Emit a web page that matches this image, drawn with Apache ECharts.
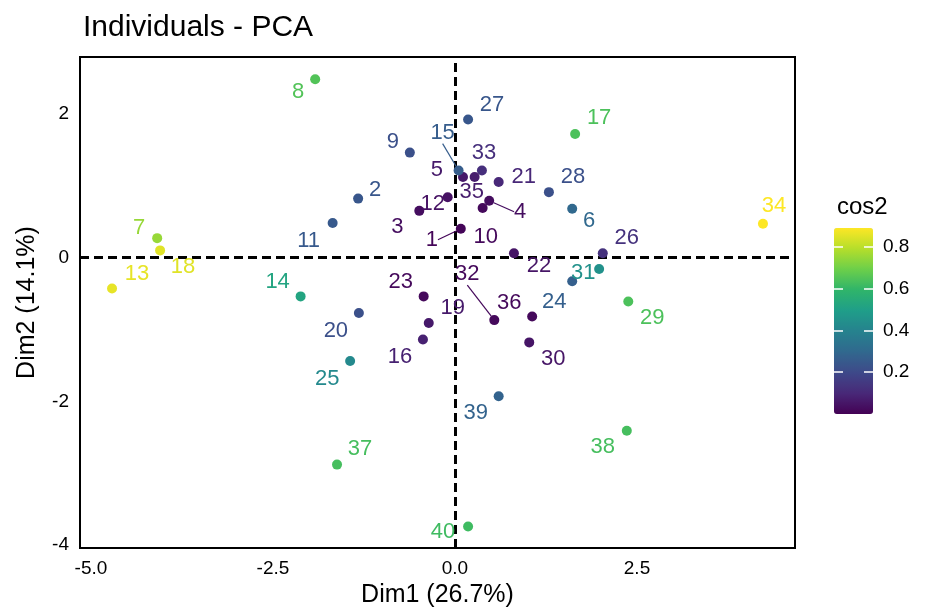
<!DOCTYPE html>
<html>
<head>
<meta charset="utf-8">
<script src="https://cdn.jsdelivr.net/npm/echarts@6/dist/echarts.min.js"></script>
<style>
    html, body { margin: 0; padding: 0; background: #fff; }
    #myChart { width: 929px; height: 609px; }
</style>
</head>
<body>
<div id="myChart"></div>
<script>
    // individuals
    var ids = ['1','2','3','4','5','6','7','8','9','10','11','12','13','14','15','16','17','18','19','20',
               '21','22','23','24','25','26','27','28','29','30','31','32','33','34','35','36','37','38','39','40'];
    var dim1 = [0.08,-1.33,-0.49,0.47,0.11,1.61,-4.09,-1.92,-0.62,0.38,-1.68,-0.10,-4.71,-2.12,0.05,-0.44,1.65,-4.05,-0.36,-1.32,
                0.60,0.81,-0.43,1.61,-1.44,2.03,0.18,1.29,2.38,1.02,1.98,0.54,0.37,4.23,0.27,1.06,-1.62,2.36,0.60,0.18];
    var dim2 = [0.40,0.82,0.65,0.79,1.12,0.68,0.27,2.48,1.46,0.69,0.48,0.84,-0.43,-0.54,1.21,-1.14,1.72,0.10,-0.91,-0.77,
                1.05,0.06,-0.54,-0.33,-1.44,0.06,1.92,0.91,-0.61,-1.18,-0.16,-0.87,1.21,0.47,1.12,-0.82,-2.88,-2.41,-1.93,-3.74];
    var cos2 = [0.01,0.24,0.03,0.03,0.06,0.30,0.75,0.65,0.22,0.02,0.25,0.04,0.86,0.52,0.26,0.08,0.64,0.85,0.06,0.22,
                0.10,0.05,0.02,0.27,0.42,0.13,0.24,0.22,0.64,0.05,0.45,0.02,0.12,0.89,0.07,0.02,0.63,0.63,0.28,0.62];

    var xTicks = [-5, -2.5, 0, 2.5];
    var yTicks = [-4, -2, 0, 2];
    var cos2Ticks = [0.2, 0.4, 0.6, 0.8];

    // where each text label sits relative to its point (px), like ggrepel did it
    var labelOffsets = [[-29,11],[17,-9],[-22,16],[31,11],[-26,-7],[17,12],[-18,-10],[-17,13],[-17,-11],[3,29],
                        [-24,18],[-15,7],[25,-15],[-23,-14],[-16,-38],[-23,17],[24,-16],[23,17],[24,-15],[-23,18],
                        [25,-5],[25,13],[-23,-14],[-18,21],[-23,18],[24,-15],[24,-15],[24,-15],[24,17],[24,17],
                        [-16,4],[-27,-46],[2,-18],[11,-18],[-3,15],[-23,-14],[23,-16],[-24,16],[-23,17],[-25,6]];
    var withSegment = ['1','4','15','32'];

    var viridis = ['#440154','#482878','#3e4989','#31688e','#26828e','#1f9e89','#2fb46a','#6ccf4a','#b5de2b','#fde725'];
    var font = 'Liberation Sans, Arial, sans-serif';

    var points = ids.map(function (id, i) {
        var item = {name: id, value: [dim1[i], dim2[i], cos2[i]]};
        if (withSegment.indexOf(id) >= 0) {
            item.labelLine = {show: true, lineStyle: {width: 1.2, opacity: 1}};
        }
        return item;
    });

    // white tick marks on the colour bar
    var barTick = function (position, offset, inside) {
        return {gridIndex: 1, type: 'value', min: 0, max: 0.89, position: position, offset: offset, z: 10,
                axisLine: {show: false}, splitLine: {show: false}, axisLabel: {show: false},
                axisTick: {show: true, inside: inside, customValues: cos2Ticks, length: 9,
                           lineStyle: {color: '#fff', width: 1.5}}};
    };

    var myChart = echarts.init(document.getElementById('myChart'));
    myChart.setOption({
        animation: false,
        title: [
            {text: 'Individuals - PCA', left: 78, top: 8,
             textStyle: {fontFamily: font, fontSize: 30, fontWeight: 'normal', color: '#000'}},
            {text: 'cos2', left: 832, top: 190,
             textStyle: {fontFamily: font, fontSize: 24, fontWeight: 'normal', color: '#000'}}
        ],
        grid: [
            {left: 80, right: 134, top: 57, bottom: 61, outerBoundsMode: 'none', containLabel: false,
             show: true, borderColor: '#000', borderWidth: 2, backgroundColor: '#fff'},
            {left: 834, top: 228, width: 39, height: 186, outerBoundsMode: 'none', containLabel: false, show: false}
        ],
        visualMap: {
            type: 'continuous', dimension: 2, seriesIndex: 0,
            min: 0, max: 0.89, calculable: false, padding: 0,
            left: 834, top: 228, itemWidth: 39, itemHeight: 186,
            inRange: {color: viridis}
        },
        xAxis: [
            {type: 'value', min: -5.15, max: 4.67,
             name: 'Dim1 (26.7%)', nameLocation: 'middle', nameGap: 35,
             nameTextStyle: {fontFamily: font, fontSize: 25, color: '#000'},
             axisLine: {show: false}, splitLine: {show: false}, axisTick: {show: false},
             axisLabel: {customValues: xTicks, fontFamily: font, fontSize: 19, color: '#000', margin: 11,
                         formatter: function (v) { return v.toFixed(1); }}},
            {gridIndex: 1, type: 'value', min: 0, max: 1, show: false}
        ],
        yAxis: [
            {type: 'value', min: -4.04, max: 2.79,
             name: 'Dim2 (14.1%)', nameLocation: 'middle', nameGap: 40, nameRotate: 90,
             nameTextStyle: {fontFamily: font, fontSize: 25, color: '#000'},
             axisLine: {show: false}, splitLine: {show: false}, axisTick: {show: false},
             axisLabel: {customValues: yTicks, fontFamily: font, fontSize: 19, color: '#000', margin: 11}},
            {gridIndex: 1, type: 'value', min: 0, max: 0.89, position: 'right', z: 10,
             axisLine: {show: false}, splitLine: {show: false}, axisTick: {show: false},
             axisLabel: {customValues: cos2Ticks, fontFamily: font, fontSize: 19, color: '#000', margin: 10,
                         formatter: function (v) { return v.toFixed(1); }}},
            barTick('left', 0, true),
            barTick('left', -39, false)
        ],
        series: [
            {
                type: 'scatter',
                symbolSize: 10,
                itemStyle: {opacity: 1},
                data: points,
                label: {
                    show: true, position: 'inside', color: 'inherit',
                    fontFamily: font, fontSize: 22, textBorderWidth: 0,
                    formatter: '{b}'
                },
                labelLayout: function (params) {
                    var o = labelOffsets[params.dataIndex];
                    return {dx: o[0], dy: o[1]};
                },
                labelLine: {show: false},
                markLine: {
                    silent: true, symbol: 'none', label: {show: false}, z: 1,
                    lineStyle: {color: '#000', type: [9, 5], width: 3},
                    data: [{xAxis: 0}, {yAxis: 0}]
                },
                z: 3
            }
        ]
    });
</script>
</body>
</html>
